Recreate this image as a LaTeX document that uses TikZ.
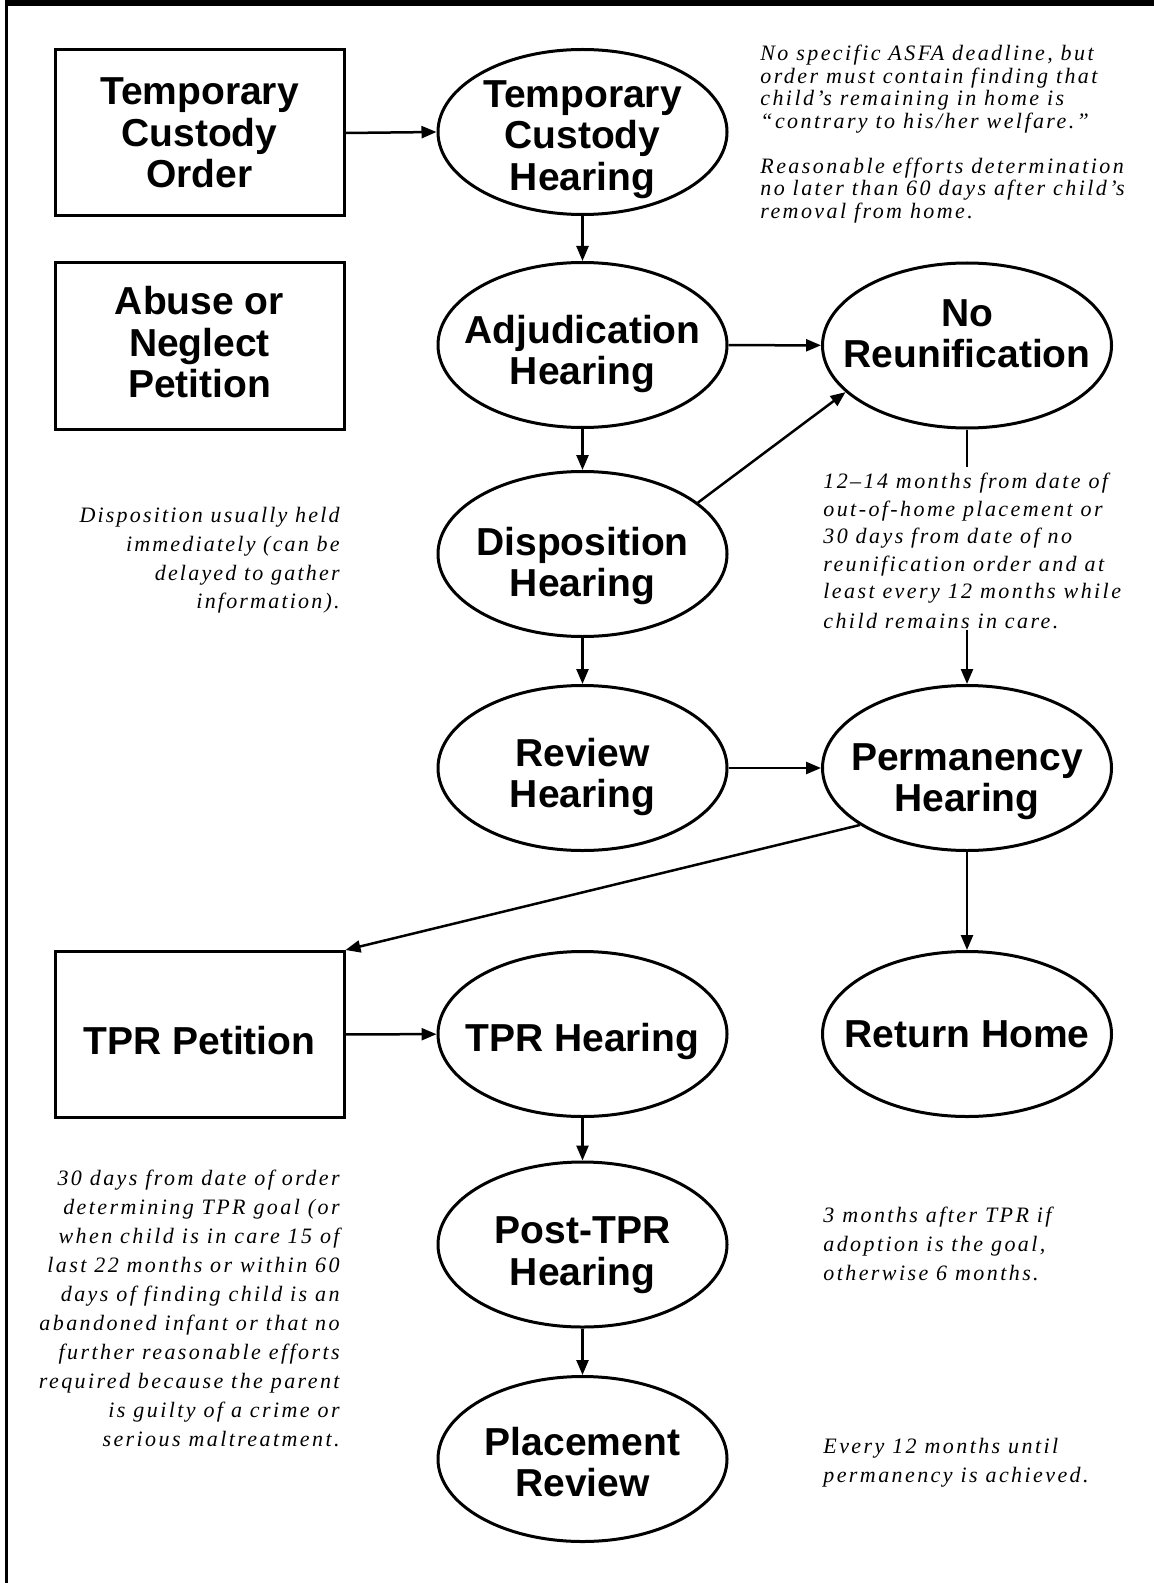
\documentclass[tikz,border=0pt]{standalone}
\usepackage{fontspec}
\setmainfont{Liberation Serif}
\newfontfamily\headfont{Liberation Sans}
\newfontfamily\notefont[LetterSpace=11]{Liberation Serif}
\newfontfamily\notefontb[LetterSpace=10]{Liberation Serif}
\usepackage{tikz}
\usetikzlibrary{arrows.meta,positioning,shapes.geometric,calc}
\tikzset{
  hearing/.style={ellipse, draw, line width=1.5pt, minimum width=144.5pt, minimum height=82.5pt,
                  inner xsep=-16pt, inner ysep=-6pt, text depth=0pt, align=center,
                  font=\headfont\bfseries\fontsize{19.5}{20.75}\selectfont},
  doc/.style={rectangle, draw, line width=1.5pt, minimum width=144.5pt, minimum height=83pt,
              inner sep=0pt, text depth=0pt, align=center,
              font=\headfont\bfseries\fontsize{19.5}{20.75}\selectfont},
  note/.style={inner sep=0pt, font=\notefont\itshape\fontsize{11}{14.5}\selectfont},
  arr/.style={-{Triangle[length=7.5pt,width=6pt]}, line width=1.25pt},
}
\begin{document}
\begin{tikzpicture}[x=0.5pt,y=-0.5pt]
    \useasboundingbox (0,0) rectangle (1154,1583);
    \draw[line width=2.8pt] (5,3) -- (1160,3);
    \draw[line width=1.7pt] (6.5,1.5) -- (6.5,1590);

    \node[doc] (tco) at (199.5,133) {Temporary\\Custody\\Order};
    \node[doc, text depth=4pt] (abuse) at (199.5,346) {Abuse or\\Neglect\\Petition};
    \node[doc, text height=20pt] (tpet) at (199.5,1034.5) {TPR Petition};

    \node[hearing, text height=58.5pt] (tch) at (582.5,132) {Temporary\\Custody\\Hearing};
    \node[hearing, text height=39.75pt] (adj) at (582.5,345) {Adjudication\\Hearing};
    \node[hearing, text height=42.75pt] (disp) at (582.5,554) {Disposition\\Hearing};
    \node[hearing, text height=39.75pt] (rev) at (582.5,768) {Review\\Hearing};
    \node[hearing, text height=17pt] (tprh) at (582.5,1034) {TPR Hearing};
    \node[hearing, text height=40.75pt] (post) at (582.5,1244.5) {Post-TPR\\Hearing};
    \node[hearing, text height=37.75pt] (place) at (582.5,1459) {Placement\\Review};
    \node[hearing, text depth=12pt] (noreun) at (967,345.5) {No\\Reunification};
    \node[hearing, text height=43.75pt] (perm) at (967,768) {Permanency\\Hearing};
    \node[hearing] (home) at (967,1034) {Return Home};

    \node[note, anchor=north west, align=left, font=\notefont\itshape\fontsize{11}{11.25}\selectfont] (ntch) at (760,45)
      {No specific ASFA deadline, but\\order must contain finding that\\child’s remaining in home is\\“contrary to his/her welfare.”\\[11.25pt]
       Reasonable efforts determination\\no later than 60 days after child’s\\removal from home.};
    \node[note, anchor=north east, align=right, font=\notefontb\itshape\fontsize{11}{14.35}\selectfont] (ndisp) at (340,507)
      {Disposition usually held\\immediately (can be\\delayed to gather\\information).};
    \node[note, anchor=north west, align=left, font=\notefont\itshape\fontsize{11}{13.7}\selectfont] (nperm) at (823,473)
      {12–14 months from date of\\out-of-home placement or\\30 days from date of no\\reunification order and at\\least every 12 months while\\[1.5pt]child remains in care.};
    \node[note, anchor=north east, align=right] (ntpr) at (340,1170)
      {30 days from date of order\\determining TPR goal (or\\when child is in care 15 of\\last 22 months or within 60\\days of finding child is an\\abandoned infant or that no\\further reasonable efforts\\required because the parent\\is guilty of a crime or\\serious maltreatment.};
    \node[note, anchor=north west, align=left] (npost) at (823,1207)
      {3 months after TPR if\\adoption is the goal,\\otherwise 6 months.};
    \node[note, anchor=north west, align=left] (nplace) at (823,1438)
      {Every 12 months until\\permanency is achieved.};

    \draw[arr] (tco.east) -- (tch.west);
    \draw[arr] (tch) -- (adj);
    \draw[arr] (adj) -- (noreun);
    \draw[arr] (adj) -- (disp);
    \draw[arr] (disp.24) -- (noreun.201);
    \draw[arr] (disp) -- (rev);
    \draw[arr] (rev) -- (perm);
    \draw[line width=1.25pt, shorten >=3pt] (noreun) -- (noreun |- nperm.north);
    \draw[arr] (noreun |- nperm.south) -- (perm);
    \draw[arr] (perm.208) -- (tpet.north east);
    \draw[arr] (perm) -- (home);
    \draw[arr] (tpet) -- (tprh);
    \draw[arr] (tprh) -- (post);
    \draw[arr] (post) -- (place);
  \end{tikzpicture}
\end{document}
